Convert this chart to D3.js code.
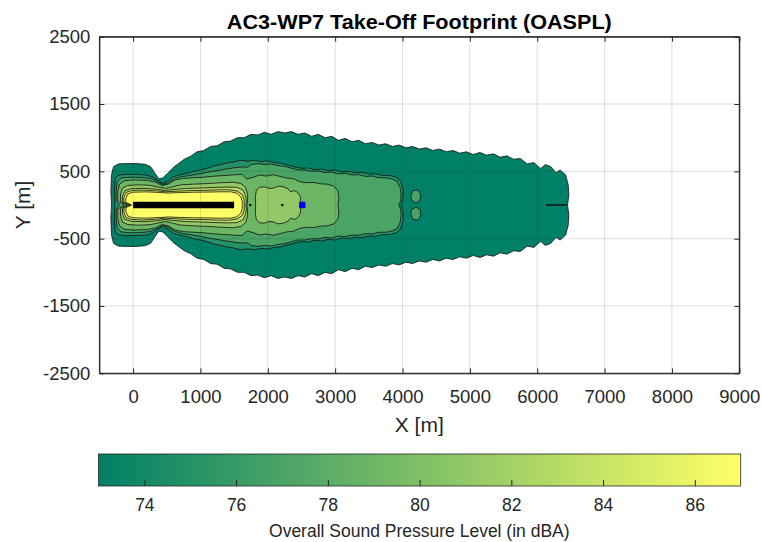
<!DOCTYPE html>
<html><head><meta charset="utf-8">
<script src="https://cdn.jsdelivr.net/npm/d3@7"></script>
<style>
body{margin:0;background:#fff}
svg{display:block}
text{font-family:"Liberation Sans",Arial,Helvetica,sans-serif;fill:#262626}
</style>
</head><body>
<svg id="c" width="762" height="542"></svg>
<script>
// ---------- data ----------
const xTicks = [0,1000,2000,3000,4000,5000,6000,7000,8000,9000];
const yTicks = [-2500,-1500,-500,500,1500,2500];
const cbTicks = [74,76,78,80,82,84,86];
const levels = [73,75,77,79,81,83,85,87];

// upper halves of the contour outlines (x, y in metres); footprint is symmetric about y = 0
const outline73 = [[-320,0],[-330,200],[-320,450],[-290,570],[-220,610],[-100,615],[50,615],[180,605],[260,570],[320,480],[380,390],[440,400],[520,480],[600,560],[680,620],[760,680],[850,720],[950,790],[1050,810],[1150,870],[1250,880],[1350,940],[1450,950],[1550,1000],[1650,1000],[1750,1050],[1850,1040],[1950,1080],[2050,1050],[2150,1090],[2250,1070],[2350,1090],[2450,1050],[2550,1070],[2650,1020],[2750,1050],[2850,1000],[2950,1020],[3050,960],[3150,990],[3250,940],[3350,960],[3450,910],[3550,930],[3650,890],[3750,910],[3850,870],[3950,890],[4050,850],[4150,870],[4250,830],[4350,850],[4450,810],[4550,830],[4650,790],[4750,810],[4850,770],[4950,790],[5050,750],[5150,780],[5250,740],[5350,760],[5450,710],[5550,730],[5650,680],[5750,690],[5850,610],[5950,630],[6050,540],[6120,600],[6200,570],[6280,480],[6340,520],[6420,450],[6460,300],[6470,150],[6450,0]];
const outline75 = [[-270,0],[-278,180],[-268,380],[-230,440],[-120,455],[50,455],[200,445],[300,410],[380,350],[440,320],[520,360],[600,420],[700,450],[800,470],[900,500],[1000,520],[1100,545],[1200,580],[1300,600],[1400,625],[1500,640],[1600,665],[1700,650],[1800,665],[1900,645],[2000,655],[2100,630],[2200,620],[2300,590],[2400,565],[2500,545],[2600,550],[2700,525],[2800,535],[2900,510],[3000,520],[3100,490],[3200,500],[3300,475],[3400,485],[3500,460],[3600,465],[3700,440],[3800,440],[3900,415],[3970,360],[4010,220],[4005,80],[3975,0]];
const outline77 = [[-200,0],[-250,60],[-252,200],[-235,340],[-180,400],[-50,412],[100,410],[250,395],[350,355],[440,300],[530,335],[620,390],[720,420],[850,440],[1000,465],[1150,495],[1300,520],[1450,545],[1560,560],[1640,565],[1700,560],[1750,600],[1850,615],[1950,600],[2050,610],[2150,585],[2250,575],[2350,545],[2450,520],[2550,520],[2650,500],[2750,505],[2850,480],[2950,490],[3050,460],[3150,470],[3250,445],[3350,450],[3450,425],[3550,430],[3650,405],[3750,405],[3850,385],[3920,350],[3965,260],[3980,150],[3970,60],[3945,0]];
const island77 = [[4200,30],[4135,70],[4125,150],[4160,215],[4230,222],[4268,160],[4262,70]];
const outline79 = [[-130,0],[-225,60],[-228,200],[-200,310],[-130,360],[0,372],[200,366],[330,340],[430,290],[520,310],[620,370],[750,395],[900,405],[1050,412],[1200,428],[1350,438],[1500,448],[1620,455],[1650,420],[1690,385],[1780,410],[1880,445],[1980,430],[2080,450],[2180,425],[2280,400],[2380,390],[2480,345],[2580,330],[2680,335],[2780,315],[2880,310],[2980,280],[3040,210],[3055,100],[3040,0]];
const outline81 = [[-90,0],[-185,50],[-188,150],[-160,250],[-80,290],[80,300],[250,292],[400,262],[480,245],[560,262],[700,298],[900,310],[1100,318],[1300,330],[1480,338],[1600,320],[1670,260],[1700,160],[1700,60],[1690,0]];
const island81 = [[1820,0],[1815,120],[1830,220],[1880,265],[1950,270],[2020,245],[2080,250],[2150,280],[2230,270],[2300,240],[2340,195],[2390,215],[2440,190],[2480,130],[2490,60],[2485,0]];
const outline83 = [[-60,0],[-155,45],[-158,130],[-125,210],[-30,242],[150,248],[350,235],[470,215],[580,228],[780,246],[1000,252],[1200,260],[1400,266],[1540,262],[1630,225],[1670,140],[1680,60],[1675,0]];
const outline85 = [[-40,0],[-135,40],[-137,110],[-105,185],[-20,215],[150,222],[350,210],[480,196],[650,205],[850,214],[1050,216],[1250,224],[1420,226],[1550,205],[1625,150],[1650,70],[1650,0]];
const outline87 = [[-20,0],[-106,38],[-108,95],[-80,160],[-10,190],[200,195],[400,186],[520,178],[700,185],[900,190],[1100,192],[1300,196],[1450,196],[1540,175],[1600,120],[1622,50],[1620,0]];

const runway = [[0,0],[1500,0]];
const observer = [2512,0];
const dots = [[1740,0],[2215,0]];
const slit = [[6130,0],[6440,0]];

// ---------- chart ----------
const svg = d3.select("#c");
const x = d3.scaleLinear().domain([-500,9000]).range([99.4,739.3]);
const y = d3.scaleLinear().domain([-2500,2500]).range([373.3,36.7]);
const summer = v => { const t = Math.max(0,Math.min(1,(v-73)/14)); return d3.rgb(255*t, 255*(0.5+0.5*t), 102); };

const defs = svg.append("defs");
defs.append("clipPath").attr("id","clip").append("rect")
  .attr("x",x.range()[0]).attr("y",y.range()[1])
  .attr("width",x.range()[1]-x.range()[0]).attr("height",y.range()[0]-y.range()[1]);

const line = d3.line().x(d=>x(d[0])).y(d=>y(d[1]));
const fullFromHalf = up => up.concat(up.slice(1,-1).reverse().map(([a,b])=>[a,-b]));
const mirror = poly => poly.map(([a,b])=>[a,-b]);

const shapes = [
  [levels[0],[fullFromHalf(outline73)]],
  [levels[1],[fullFromHalf(outline75)]],
  [levels[2],[fullFromHalf(outline77), island77, mirror(island77)]],
  [levels[3],[fullFromHalf(outline79)]],
  [levels[4],[fullFromHalf(outline81), fullFromHalf(island81)]],
  [levels[5],[fullFromHalf(outline83)]],
  [levels[6],[fullFromHalf(outline85)]],
  [levels[7],[fullFromHalf(outline87)]]
];

const plot = svg.append("g").attr("clip-path","url(#clip)");
shapes.forEach(([lev,polys])=>{
  plot.append("g").selectAll("path").data(polys).join("path")
    .attr("d",p=>line(p)+"Z")
    .attr("fill",summer(lev))
    .attr("stroke","#111").attr("stroke-width",0.8).attr("stroke-linejoin","round");
});
plot.append("path").attr("d",line(slit)).attr("stroke","#111").attr("stroke-width",1.6).attr("fill","none");
plot.selectAll("circle.dot").data(dots).join("circle").attr("class","dot")
  .attr("cx",d=>x(d[0])).attr("cy",d=>y(d[1])).attr("r",1.3).attr("fill","#111");
plot.append("path").attr("d",line(runway)).attr("stroke","#000").attr("stroke-width",6.5).attr("fill","none");
plot.append("rect").attr("x",x(observer[0])-3.2).attr("y",y(observer[1])-3.2)
  .attr("width",6.4).attr("height",6.4).attr("fill","#0000ee");

// grid (drawn over, translucent like MATLAB)
const grid = svg.append("g").attr("stroke","#262626").attr("stroke-opacity",0.15).attr("stroke-width",1);
grid.selectAll("line.gx").data(xTicks).join("line").attr("class","gx")
  .attr("x1",d=>x(d)).attr("x2",d=>x(d)).attr("y1",y.range()[0]).attr("y2",y.range()[1]);
grid.selectAll("line.gy").data(yTicks).join("line").attr("class","gy")
  .attr("y1",d=>y(d)).attr("y2",d=>y(d)).attr("x1",x.range()[0]).attr("x2",x.range()[1]);

// axes
const fmt = d => String(d);
const ax = svg.append("g").attr("transform",`translate(0,${y.range()[0]})`)
  .call(d3.axisBottom(x).tickValues(xTicks).tickSize(-5).tickSizeOuter(0).tickFormat(fmt));
ax.selectAll("text").attr("y",17).attr("dy","0.71em").style("font-size","18.5px");
svg.append("g").attr("transform",`translate(0,${y.range()[1]})`)
  .call(d3.axisTop(x).tickValues(xTicks).tickSize(-5).tickSizeOuter(0).tickFormat(""));
const ay = svg.append("g").attr("transform",`translate(${x.range()[0]},0)`)
  .call(d3.axisLeft(y).tickValues(yTicks).tickSize(-5).tickSizeOuter(0).tickFormat(fmt));
ay.selectAll("text").attr("x",-9).style("font-size","18.5px");
svg.append("g").attr("transform",`translate(${x.range()[1]},0)`)
  .call(d3.axisRight(y).tickValues(yTicks).tickSize(-5).tickSizeOuter(0).tickFormat(""));
svg.selectAll(".domain, .tick line").attr("stroke","#262626");
svg.selectAll(".tick text").attr("fill","#262626");
svg.append("rect").attr("x",x.range()[0]).attr("y",y.range()[1])
  .attr("width",x.range()[1]-x.range()[0]).attr("height",y.range()[0]-y.range()[1])
  .attr("fill","none").attr("stroke","#262626").attr("stroke-width",1);

// labels
svg.append("text").attr("x",419.3).attr("y",28.5).attr("text-anchor","middle")
  .attr("textLength",385).attr("lengthAdjust","spacingAndGlyphs")
  .style("font-size","20px").style("font-weight","bold").style("fill","#000")
  .text("AC3-WP7 Take-Off Footprint (OASPL)");
svg.append("text").attr("x",419.3).attr("y",432).attr("text-anchor","middle")
  .style("font-size","21px").text("X  [m]");
svg.append("text").attr("transform","translate(30,205) rotate(-90)").attr("text-anchor","middle")
  .style("font-size","21px").text("Y  [m]");

// colorbar
const cb = d3.scaleLinear().domain([73,87]).range([98.5,740.7]);
const cbTop = 454, cbBot = 486;
const grad = defs.append("linearGradient").attr("id","summer").attr("x1","0%").attr("x2","100%");
d3.range(0,1.0001,0.1).forEach(t=>grad.append("stop").attr("offset",t).attr("stop-color",summer(73+14*t)));
svg.append("rect").attr("x",cb.range()[0]).attr("y",cbTop).attr("width",cb.range()[1]-cb.range()[0])
  .attr("height",cbBot-cbTop).attr("fill","url(#summer)").attr("stroke","#262626").attr("stroke-width",0.8);
const acb = svg.append("g").attr("transform",`translate(0,${cbBot})`)
  .call(d3.axisBottom(cb).tickValues(cbTicks).tickSize(-6).tickSizeOuter(0));
acb.select(".domain").remove();
acb.selectAll("line").attr("stroke","#262626");
acb.selectAll("text").attr("y",13).attr("dy","0.71em").style("font-size","17.5px").attr("fill","#262626");
svg.append("text").attr("x",419.3).attr("y",537).attr("text-anchor","middle")
  .style("font-size","17.5px").text("Overall Sound Pressure Level (in dBA)");
</script>
</body></html>
